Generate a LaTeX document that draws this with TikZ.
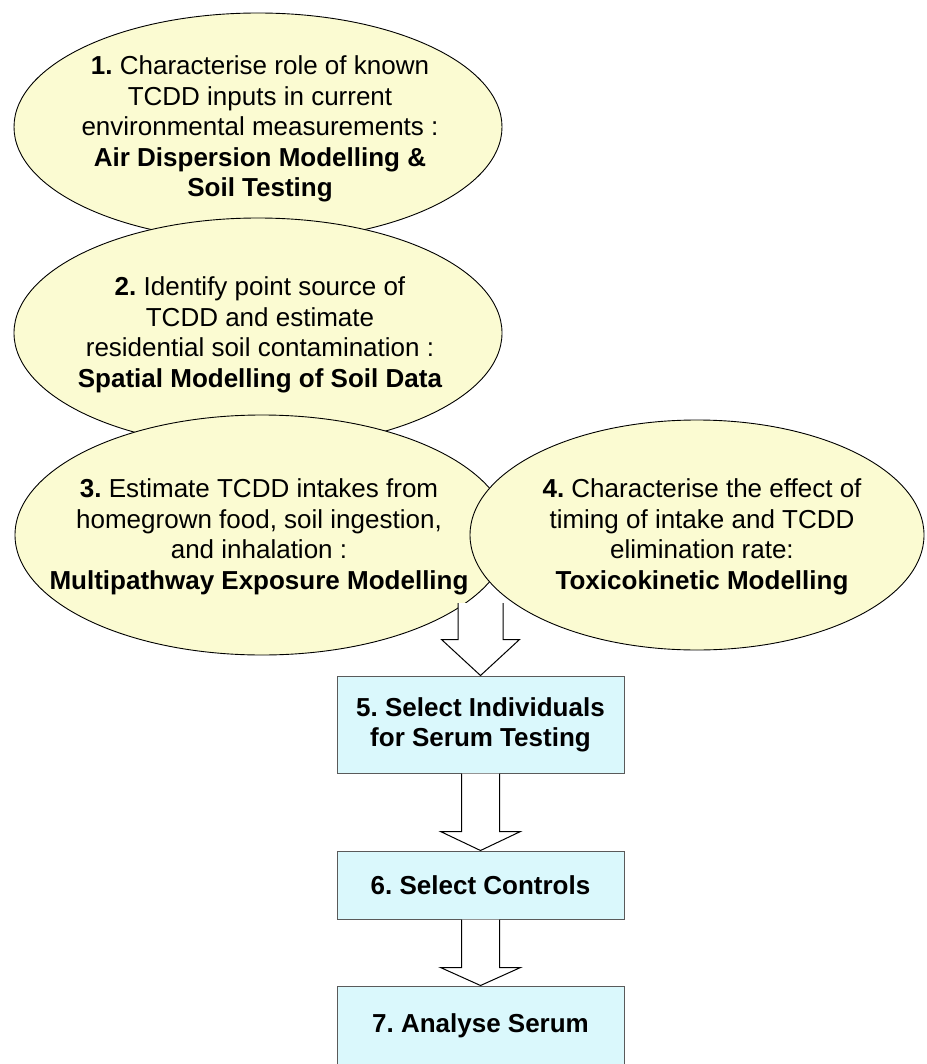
\documentclass[tikz,border=0pt]{standalone}
\usepackage{fontspec}
\setmainfont{Liberation Sans}
\usetikzlibrary{shapes.geometric,calc}
\definecolor{ellfill}{RGB}{251,251,210}
\definecolor{boxfill}{RGB}{218,248,252}
\definecolor{boxline}{RGB}{90,90,90}
\frenchspacing
\tikzset{
  ell/.style={ellipse, draw=black, line width=0.9pt, fill=ellfill, inner sep=0pt},
  etext/.style={align=center, font=\fontsize{26}{30.5}\selectfont, inner sep=0pt},
  stepbox/.style={rectangle, draw=boxline, line width=1pt, fill=boxfill, minimum width=287pt,
    font=\bfseries\fontsize{26}{30}\selectfont, align=center, inner sep=0pt},
  blockarrow/.style={draw=black, fill=white, line width=1pt, line join=miter},
}
\begin{document}
\begin{tikzpicture}[x=1pt,y=-1pt]
\useasboundingbox (0,0) rectangle (926,1064);
\clip (0,0) rectangle (926,1064);

% ellipses
\node[ell, minimum width=488pt, minimum height=228pt] (e1) at (258,127) {};
\node[etext] (t1) at (260,129) {\textbf{1.} Characterise role of known\\TCDD inputs in current\\environmental measurements :\\\textbf{Air Dispersion Modelling \&}\\\textbf{Soil Testing}};

\node[ell, minimum width=488pt, minimum height=230pt] (e2) at (258,333) {};
\node[etext] (t2) at (260,335) {\textbf{2.} Identify point source of\\TCDD and estimate\\residential soil contamination :\\\textbf{Spatial Modelling of Soil Data}};

\node[ell, minimum width=494pt, minimum height=240pt] (e3) at (262,535) {};
\node[etext] (t3) at (259,537) {\textbf{3.} Estimate TCDD intakes from\\homegrown food, soil ingestion,\\and inhalation :\\\textbf{Multipathway Exposure Modelling}};

\node[ell, minimum width=454pt, minimum height=230pt] (e4) at (697,535) {};
\node[etext] (t4) at (702,537) {\textbf{4.} Characterise the effect of\\timing of intake and TCDD\\elimination rate:\\\textbf{Toxicokinetic Modelling}};

% boxes
\node[stepbox, minimum height=97pt] (b5) at (480.5,724.5) {5. Select Individuals\\for Serum Testing};
\node[stepbox, minimum height=68pt] (b6) at (480.5,885) {6. Select Controls};
\node[stepbox, minimum height=80pt] (b7) at (480.5,1026) {7. Analyse Serum};

% block arrows
\coordinate (a1top) at (480.5,603);
\path[blockarrow] ($(a1top)+(-22.5,0)$) -- ($(b5.north)+(-22.5,-36)$) -- ($(b5.north)+(-39,-36)$) -- (b5.north)
  -- ($(b5.north)+(39,-36)$) -- ($(b5.north)+(22.5,-36)$) -- ($(a1top)+(22.5,0)$);
\path[blockarrow] ($(b5.south)+(-19,0)$) -- ($(b6.north)+(-19,-19)$) -- ($(b6.north)+(-40,-19)$) -- (b6.north)
  -- ($(b6.north)+(40,-19)$) -- ($(b6.north)+(19,-19)$) -- ($(b5.south)+(19,0)$);
\path[blockarrow] ($(b6.south)+(-19,0)$) -- ($(b7.north)+(-19,-18)$) -- ($(b7.north)+(-40,-18)$) -- (b7.north)
  -- ($(b7.north)+(40,-18)$) -- ($(b7.north)+(19,-18)$) -- ($(b6.south)+(19,0)$);
\end{tikzpicture}
\end{document}
